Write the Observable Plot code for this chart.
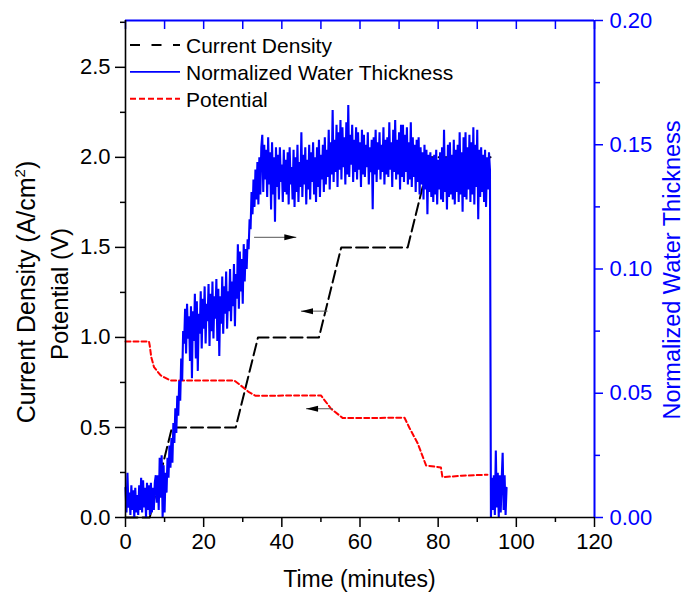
<!DOCTYPE html>
<html>
<head>
<meta charset="utf-8">
<style>
  html, body { margin: 0; padding: 0; background: #fff; }
  #chart svg { display: block; }
</style>
<script src="https://cdn.jsdelivr.net/npm/d3@7"></script>
<script src="https://cdn.jsdelivr.net/npm/@observablehq/plot@0.6"></script>
</head>
<body>
<div id="chart"></div>
<script>
// ---------------- data ----------------
const xMajorTicks = [0, 20, 40, 60, 80, 100, 120];
const xMinorTicks = [10, 30, 50, 70, 90, 110];
const topTicks = [0, 10, 20, 30, 40, 50, 60, 70, 80, 90, 100, 110, 120];
const leftMajorTicks = [0, 0.5, 1.0, 1.5, 2.0, 2.5];
const leftMinorTicks = [0.25, 0.75, 1.25, 1.75, 2.25, 2.75];
const rightMajorTicks = [0, 0.05, 0.10, 0.15, 0.20];
const rightMinorTicks = [0.025, 0.075, 0.125, 0.175];
const xDomain = [0, 120];
const leftMax = 2.76;     // top of the left (A/cm², V) axis
const rightMax = 0.20;    // top of the right (normalized thickness) axis

// Current density (A/cm²), black dashed
const currentTime    = [0, 6.2, 11.9, 28.2, 33.9, 49.5, 55.2, 72.2, 77.9, 93.4];
const currentDensity = [0, 0,   0.5,  0.5,  1.0,  1.0,  1.5,  1.5,  2.0,  2.0];

// Potential (V), red dotted
const potentialTime = [0, 6.0, 6.2, 6.6, 7.3, 9.0, 11.5, 27.8, 29.5, 31.6, 33.3, 50.0, 52.6, 55.6, 71.4, 72.6, 74.8, 76.9, 80.7, 81.1, 86.0, 92.6];
const potential     = [0.978, 0.978, 0.955, 0.89, 0.835, 0.789, 0.761, 0.761, 0.733, 0.696, 0.676, 0.678, 0.604, 0.552, 0.554, 0.50, 0.41, 0.289, 0.278, 0.224, 0.232, 0.238];

// Normalized water thickness, blue, sampled every 0.25 min (segments with start times)
const sampleStep = 0.25;
const waterBaseline = [ // from t = 0
  .012,.002,.018,.004,.010,.001,.013,.003,
  .011,.000,.012,.002,.009,.001,.013,.003,
  .016,.002,.015,.004,.012,.000,.014,.003,
  .013,.001,.014,.002,.012,.003,.014,.017,
  .006,.017,.003,.024,.008,.025,.000,.021];
const waterRise = [ // from t = 10
  .002,.018,.010,.024,.016,.029,.020,.032,.022,.038,
  .030,.044,.034,.049,.041,.055,.047,.064,.055,.075];
const waterSlope = [ // from t = 15
  .070,.084,.066,.086,.072,.081,.063,.085,
  .056,.083,.071,.090,.064,.087,.059,.082,
  .074,.091,.068,.088,.076,.093,.070,.086,
  .079,.094,.069,.090,.075,.095,.072,.089,
  .080,.096,.071,.092,.065,.089,.078,.097,
  .074,.093,.082,.099,.076,.091,.083,.100,
  .079,.095,.085,.102,.077,.098,.088,.110,
  .084,.107,.091,.104,.086,.110,.095,.108];
const waterStep = [ // from t = 31
  .100,.112,.108,.120,.116,.131,.122,.136,
  .125,.140,.128,.143,.126,.145,.130,.149];
const waterPlateau = [ // from t = 35
  .154,.131,.150,.136,.148,.129,.153,.134,
  .147,.124,.151,.130,.145,.119,.149,.133,
  .146,.128,.149,.135,.142,.127,.148,.131,
  .144,.130,.147,.126,.149,.134,.141,.128,
  .148,.125,.145,.131,.150,.127,.143,.133,
  .155,.129,.146,.134,.149,.126,.144,.132,
  .150,.128,.147,.135,.151,.130,.145,.127,
  .149,.133,.152,.129,.146,.136,.150,.131,
  .153,.134,.148,.137,.156,.132,.151,.138,
  .164,.135,.152,.139,.158,.133,.155,.140,
  .160,.136,.157,.141,.153,.134,.159,.138,
  .166,.137,.154,.142,.158,.135,.152,.139,
  .157,.136,.155,.140,.151,.133,.156,.138,
  .154,.137,.150,.141,.155,.134,.149,.139,
  .152,.124,.153,.138,.156,.135,.151,.140,
  .155,.136,.150,.139,.157,.134,.152,.138,
  .153,.137,.159,.140,.151,.133,.156,.139,
  .160,.136,.152,.138,.155,.132,.158,.137,
  .158,.135,.154,.139,.157,.134,.151,.136,
  .159,.133,.153,.137,.150,.131,.152,.135,
  .153,.130,.149,.134,.147,.128,.150,.132,
  .148,.122,.146,.131,.147,.129,.145,.127,
  .146,.130,.148,.126,.144,.132,.147,.128,
  .149,.127,.156,.131,.145,.124,.150,.129,
  .151,.130,.146,.128,.152,.126,.148,.131,
  .150,.127,.155,.130,.147,.123,.153,.129,
  .155,.128,.149,.132,.154,.127,.151,.130,
  .157,.126,.150,.133,.156,.120,.148,.129,
  .149,.131,.146,.127,.148,.125,.145,.132,
  .147,.140];
const waterAfter = [ // from t = 93.5
  .000,.016,.003,.017,.001,.027,.004,.018,.000,
  .017,.002,.015,.026,.003,.017,.001,.012];
const waterSegments = [
  {start: 0,    values: waterBaseline},
  {start: 10,   values: waterRise},
  {start: 15,   values: waterSlope},
  {start: 31,   values: waterStep},
  {start: 35,   values: waterPlateau},
  {start: 93.5, values: waterAfter}
];

// annotation arrows (data units: minutes, left-axis units)
const arrowNotes = [
  {x1: 32.9, x2: 43.7, y: 1.556, dir: "right"},
  {x1: 51.7, x2: 44.9, y: 1.146, dir: "left"},
  {x1: 53.0, x2: 46.2, y: 0.604, dir: "left"}
];

const legendItems = [
  {label: "Current Density", stroke: "#000", dash: "10,11.5", width: 2},
  {label: "Normalized Water Thickness", stroke: "#0000ff", dash: null, width: 1.6},
  {label: "Potential", stroke: "#ff0000", dash: "6,3", width: 2}
];

// ---------------- build ----------------
const BLUE = "#0000ff", RED = "#ff0000";
const FONT = '"Liberation Sans", Arial, Helvetica, sans-serif';
const K = leftMax / rightMax; // right-axis units -> left-axis units

const currentData = currentTime.map((t, i) => ({t, v: currentDensity[i]}));
const potentialData = potentialTime.map((t, i) => ({t, v: potential[i]}));
const waterData = waterSegments.flatMap(s => s.values.map((w, i) => ({t: s.start + i * sampleStep, w})));

const headRight = {draw(ctx) { ctx.moveTo(0, 0); ctx.lineTo(-12, -3); ctx.lineTo(-12, 3); ctx.closePath(); }};
const headLeft  = {draw(ctx) { ctx.moveTo(0, 0); ctx.lineTo(12, -3); ctx.lineTo(12, 3); ctx.closePath(); }};

const W = 684, H = 592, mL = 125, mR = 90, mT = 20, mB = 75;
const innerH = H - mT - mB;

const chart = Plot.plot({
  width: W, height: H,
  marginLeft: mL, marginRight: mR, marginTop: mT, marginBottom: mB,
  style: {fontFamily: FONT, fontSize: "22px", background: "#fff", color: "#000", overflow: "visible"},
  x: {domain: xDomain},
  y: {domain: [0, leftMax]},
  marks: [
    // data
    Plot.line(currentData, {x: "t", y: "v", stroke: "#000", strokeWidth: 2, strokeDasharray: "12,5"}),
    Plot.line(potentialData, {x: "t", y: "v", stroke: RED, strokeWidth: 2, strokeDasharray: "5,3"}),
    Plot.line(waterData, {x: "t", y: d => d.w * K, stroke: BLUE, strokeWidth: 2.1, strokeLinejoin: "miter"}),
    // annotation arrows
    Plot.link(arrowNotes, {x1: "x1", x2: "x2", y1: "y", y2: "y", stroke: "#555", strokeWidth: 1}),
    Plot.dot(arrowNotes.filter(d => d.dir === "right"), {x: "x2", y: "y", symbol: headRight, fill: "#000", stroke: "none"}),
    Plot.dot(arrowNotes.filter(d => d.dir === "left"), {x: "x2", y: "y", symbol: headLeft, fill: "#000", stroke: "none"}),
    // axes
    Plot.axisX({ticks: xMajorTicks, tickSize: 10, tickPadding: 6, fontSize: 22, strokeWidth: 1.5, label: null, tickFormat: d => String(d)}),
    Plot.axisX({ticks: xMinorTicks, tickSize: 5, strokeWidth: 1.5, label: null, tickFormat: () => ""}),
    Plot.axisY({ticks: leftMajorTicks, tickSize: 10, tickPadding: 5, fontSize: 22, strokeWidth: 1.5, label: null, tickFormat: d3.format(".1f")}),
    Plot.axisY({ticks: leftMinorTicks, tickSize: 5, strokeWidth: 1.5, label: null, tickFormat: () => ""}),
    Plot.axisY({anchor: "right", ticks: rightMajorTicks.map(v => v * K), tickSize: 8, tickPadding: 7, fontSize: 22, strokeWidth: 1.5,
      stroke: BLUE, fill: BLUE, color: BLUE, label: null, tickFormat: d => (d / K).toFixed(2)}),
    Plot.axisY({anchor: "right", ticks: rightMinorTicks.map(v => v * K), tickSize: 5, strokeWidth: 1.5,
      stroke: BLUE, fill: BLUE, color: BLUE, label: null, tickFormat: () => ""}),
    // top axis (blue, inward ticks)
    Plot.ruleX(topTicks, {x: d => d, stroke: BLUE, strokeWidth: 1.5, insetBottom: innerH - 9}),
    // frame
    Plot.ruleY([leftMax], {stroke: BLUE, strokeWidth: 2}),
    Plot.ruleX([xDomain[1]], {stroke: BLUE, strokeWidth: 2}),
    Plot.ruleX([xDomain[0]], {stroke: "#000", strokeWidth: 1.6}),
    Plot.ruleY([0], {stroke: "#000", strokeWidth: 1.6})
  ]
});

document.getElementById("chart").appendChild(chart);
const svg = d3.select(chart);

// axis titles
svg.append("text")
  .attr("x", (mL + (W - mR)) / 2).attr("y", 587)
  .attr("text-anchor", "middle").attr("font-family", FONT).attr("font-size", 23).attr("fill", "#000")
  .text("Time (minutes)");

const lt1 = svg.append("text")
  .attr("transform", "translate(35,292) rotate(-90)")
  .attr("text-anchor", "middle").attr("font-family", FONT).attr("font-size", 25).attr("fill", "#000");
lt1.append("tspan").text("Current Density (A/cm");
lt1.append("tspan").attr("dy", -10).attr("font-size", 15).text("2");
lt1.append("tspan").attr("dy", 10).text(")");

svg.append("text")
  .attr("transform", "translate(68,294) rotate(-90)")
  .attr("text-anchor", "middle").attr("font-family", FONT).attr("font-size", 24).attr("fill", "#000")
  .text("Potential (V)");

svg.append("text")
  .attr("transform", "translate(680,270) rotate(-90)")
  .attr("text-anchor", "middle").attr("font-family", FONT).attr("font-size", 23.5).attr("fill", BLUE)
  .text("Normalized Water Thickness");

// legend (inside plot, top-left)
const lg = svg.append("g").attr("text-anchor", "start");
legendItems.forEach((d, i) => {
  const y = 45 + i * 26.9;
  lg.append("line")
    .attr("x1", 130).attr("x2", 180).attr("y1", y).attr("y2", y)
    .attr("stroke", d.stroke).attr("stroke-width", d.width)
    .attr("stroke-dasharray", d.dash);
  lg.append("text")
    .attr("x", 186).attr("y", y + 7.8)
    .attr("text-anchor", "start")
    .attr("font-family", FONT).attr("font-size", 21).attr("fill", "#000")
    .text(d.label);
});
</script>
</body>
</html>
